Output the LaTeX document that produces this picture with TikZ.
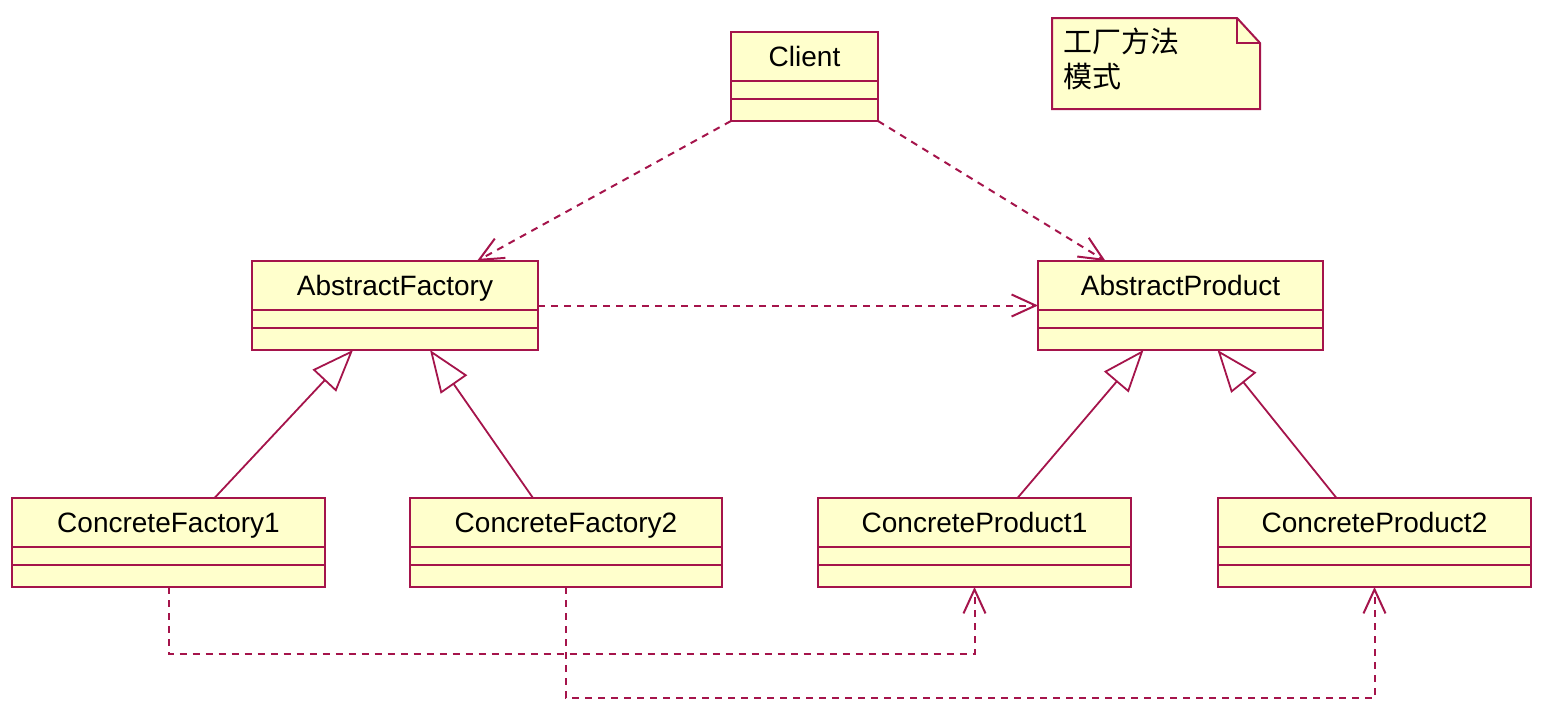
\documentclass[tikz,border=0pt]{standalone}
\usepackage{fontspec}
\setmainfont{Liberation Sans}
\newfontfamily\cjk{Noto Sans CJK SC}
\usepackage{tikz}
\usetikzlibrary{shapes.multipart, arrows.meta, positioning, calc}
\definecolor{umlred}{RGB}{165, 20, 75}
\definecolor{umlfill}{RGB}{255, 255, 204}
% empty attribute and operation compartments
\newcommand{\clsrest}{\nodepart{two}\rule{0pt}{8pt}\nodepart{three}\rule{0pt}{10pt}}
\newcommand{\clsname}{\rule[-7pt]{0pt}{23.5pt}}

\begin{document}
\begin{tikzpicture}[x=0.5pt, y=-0.5pt,
    classbox/.style={rectangle split, rectangle split parts=3, draw=umlred, fill=umlfill, line width=1pt, inner xsep=0pt, inner ysep=0pt, outer sep=0pt, anchor=north west, font=\fontsize{14}{17}\selectfont},
    notebox/.style={draw=umlred, fill=umlfill, line width=1pt, line join=miter},
    notetext/.style={anchor=north west, inner sep=0pt, align=left, font=\fontsize{14.5}{17.5}\selectfont\cjk},
    dep/.style={draw=umlred, line width=1pt, dash pattern=on 3.5pt off 3pt, -{Straight Barb[length=12pt, width=11pt]}},
    inherit/.style={draw=umlred, line width=0.9pt, -{Triangle[open, length=21pt, width=16pt, fill=white]}}]

    \useasboundingbox (0,0) rectangle (1542,728);

    \node [classbox, minimum width=73.5pt] (client) at (731,32) {\clsname Client\clsrest};
    \node [classbox, minimum width=143pt] (af) at (252,261) {\clsname AbstractFactory\clsrest};
    \node [classbox, minimum width=142.5pt, right=250pt of af] (ap) {\clsname AbstractProduct\clsrest};
    \node [classbox, minimum width=156.5pt] (cf1) at (12,498) {\clsname ConcreteFactory1\clsrest};
    \node [classbox, minimum width=156pt, right=42.5pt of cf1] (cf2) {\clsname ConcreteFactory2\clsrest};
    \node [classbox, minimum width=156.5pt, right=48pt of cf2] (cp1) {\clsname ConcreteProduct1\clsrest};
    \node [classbox, minimum width=156.5pt, right=43.5pt of cp1] (cp2) {\clsname ConcreteProduct2\clsrest};

    % note with folded corner
    \path [notebox] (1052,18) -- (1237,18) -- (1260,43) -- (1260,109) -- (1052,109) -- cycle;
    \path [notebox, fill=none] (1237,18) -- (1237,43) -- (1260,43);
    \node [notetext] (note) at (1063,28) {工厂方法\\模式};

    \path [dep] (client.south west) -- ($(af.north)+(82,0)$);
    \path [dep] (client.south east) -- ($(ap.north)+(-75,0)$);
    \path [dep] (af.east) -- (ap.west);

    \path [inherit] ($(cf1.north)+(46,0)$) -- ($(af.south)+(-42,0)$);
    \path [inherit] ($(cf2.north)+(-33,0)$) -- ($(af.south)+(35,0)$);
    \path [inherit] ($(cp1.north)+(43,0)$) -- ($(ap.south)+(-37,0)$);
    \path [inherit] ($(cp2.north)+(-38,0)$) -- ($(ap.south)+(37,0)$);

    \path [dep] (cf1.south) -- ++(0,67) -| (cp1.south);
    \path [dep] (cf2.south) -- ++(0,111) -| (cp2.south);
\end{tikzpicture}
\end{document}
